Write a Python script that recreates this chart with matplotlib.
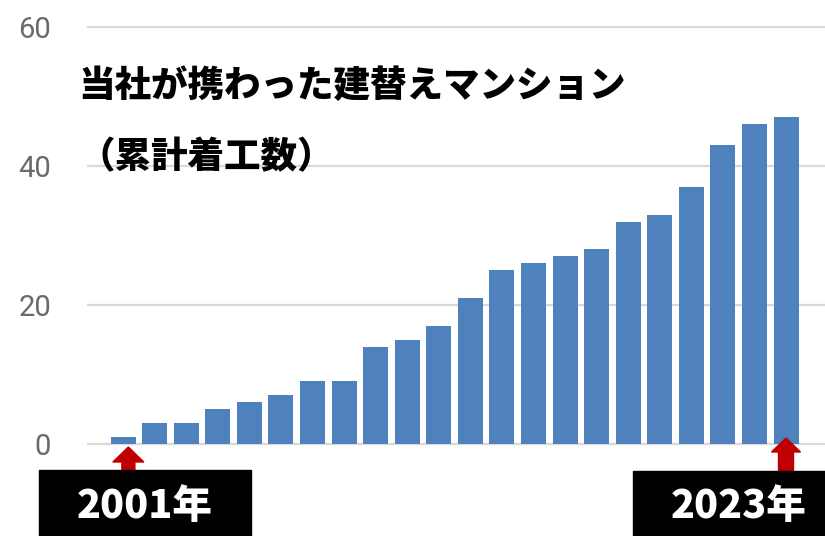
#!/usr/bin/env python3
"""Cumulative count of rebuilt condominiums (2001-2023) as a bar chart."""

import matplotlib

matplotlib.use("Agg")
import matplotlib.pyplot as plt
from matplotlib.patches import FancyArrow, Rectangle

plt.rcParams["font.family"] = ["Noto Sans CJK JP", "DejaVu Sans"]

TITLE_LINES = ["当社が携わった建替えマンション", "（累計着工数）"]
START_LABEL = "2001年"
END_LABEL = "2023年"
COUNTS = [1, 3, 3, 5, 6, 7, 9, 9, 14, 15, 17, 21, 25, 26, 27, 28, 32, 33, 37, 43, 46, 47]
Y_TICKS = [0, 20, 40, 60]

BAR_COLOR = "#4f81bd"
GRID_COLOR = "#d9d9d9"
TICK_COLOR = "#6a6a6a"
ARROW_COLOR = "#c00000"

W, H = 825, 536


def px_x(x):
    return x / W


def px_y(y):
    # pixel measured from top -> figure fraction
    return 1 - y / H


def main():
    fig = plt.figure(figsize=(W / 100, H / 100), dpi=100)
    # y: 0 at px 444, 60 at px 27
    ppu = (444 - 27) / 60
    ax = fig.add_axes([px_x(87), px_y(451), px_x(825 - 87), (451 - 20) / H])
    ax.set_ylim(-7 / ppu, 60 + 7 / ppu)

    xs = list(range(len(COUNTS)))
    slot = (786 - 123) / (len(COUNTS) - 1)
    ax.set_xlim((87 - 123) / slot, (825 - 123) / slot)
    ax.bar(xs, COUNTS, width=25 / slot, color=BAR_COLOR, zorder=2)

    for spine in ax.spines.values():
        spine.set_visible(False)
    ax.set_xticks([])
    ax.set_yticks(Y_TICKS)
    ax.yaxis.grid(True, color=GRID_COLOR, linewidth=1.6, zorder=0)
    ax.set_axisbelow(True)
    ax.tick_params(axis="y", length=0, pad=26, labelsize=21, labelcolor=TICK_COLOR)
    for lbl in ax.get_yticklabels():
        lbl.set_family(["Roboto", "DejaVu Sans"])
        lbl.set_fontweight("normal")

    # title
    for text, y in zip(TITLE_LINES, (86, 157)):
        fig.text(px_x(78), px_y(y), text, fontsize=26.3, fontweight="heavy",
                 va="center", ha="left", color="black")

    # arrows pointing at first and last bar
    first, last = xs[0], xs[-1]
    ax.add_patch(FancyArrow(first + 0.17, (444 - 470) / ppu, 0, (470 - 447) / ppu,
                            width=13 / slot, head_width=31 / slot,
                            head_length=15 / ppu, length_includes_head=True,
                            color=ARROW_COLOR, clip_on=False, zorder=4))
    ax.add_patch(FancyArrow(last, (444 - 471) / ppu, 0, (471 - 438) / ppu,
                            width=15 / slot, head_width=29 / slot,
                            head_length=14 / ppu, length_includes_head=True,
                            color=ARROW_COLOR, clip_on=False, zorder=4))

    # black label boxes
    fig.patches.append(Rectangle((px_x(39), 0), (251 - 39) / W, (536 - 470) / H,
                                 transform=fig.transFigure, color="black", zorder=5))
    fig.patches.append(Rectangle((px_x(633), 0), (825 - 633) / W, (536 - 471) / H,
                                 transform=fig.transFigure, color="black", zorder=5))
    fig.text(px_x(145), px_y(506), START_LABEL, fontsize=28.5, fontweight="heavy",
             color="white", ha="center", va="center", zorder=6)
    fig.text(px_x(739), px_y(506), END_LABEL, fontsize=28.5, fontweight="heavy",
             color="white", ha="center", va="center", zorder=6)

    fig.savefig("out.png", dpi=100)


if __name__ == "__main__":
    main()
